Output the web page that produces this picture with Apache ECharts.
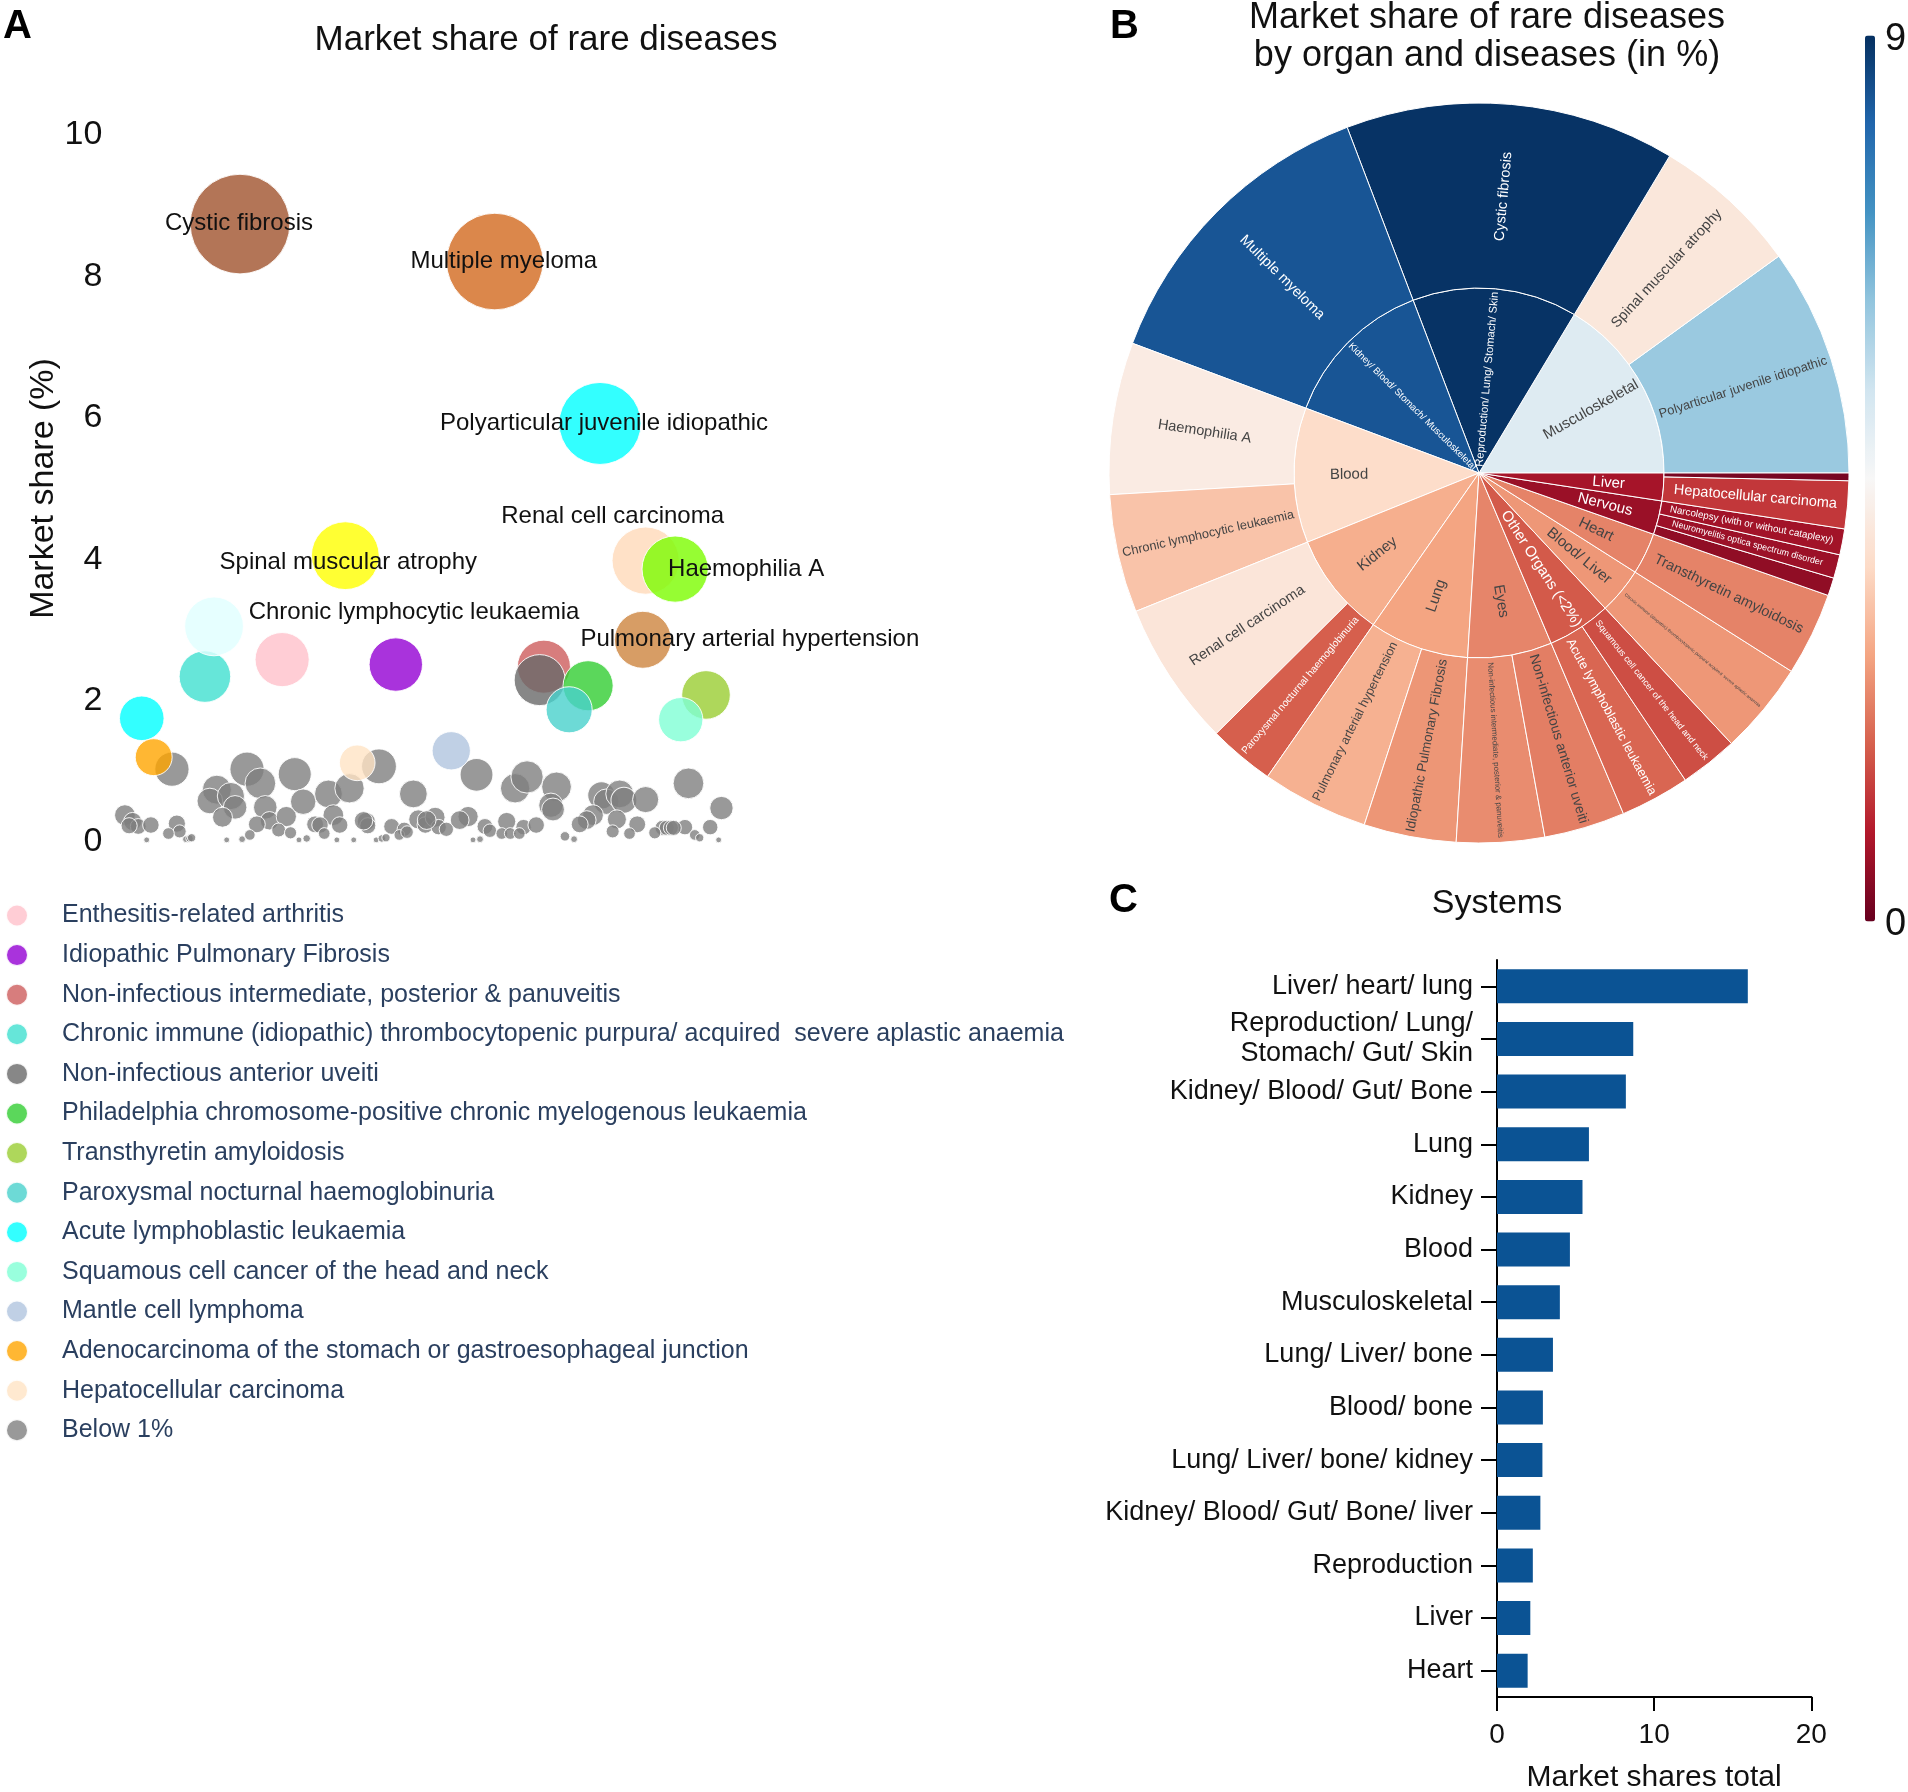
<!DOCTYPE html>
<html><head><meta charset="utf-8">
<script src="https://cdn.jsdelivr.net/npm/echarts/dist/echarts.min.js"></script>
<style>html,body{margin:0;padding:0;background:#fff}#c{width:1908px;height:1792px}</style>
</head><body><div id="c"></div>
<script>
// ---------------- Panel A data ----------------
const labeledNames = ['Cystic fibrosis','Multiple myeloma','Polyarticular juvenile idiopathic','Renal cell carcinoma','Haemophilia A','Spinal muscular atrophy','Chronic lymphocytic leukaemia','Pulmonary arterial hypertension'];
const labeledX = [34.2,70.5,85.5,92.0,96.2,49.2,30.5,91.6];
const labeledY = [8.74,8.21,5.92,3.98,3.86,4.05,3.05,2.86];

const legendNames = ['Enthesitis-related arthritis','Idiopathic Pulmonary Fibrosis','Non-infectious intermediate, posterior & panuveitis','Chronic immune (idiopathic) thrombocytopenic purpura/ acquired  severe aplastic anaemia','Non-infectious anterior uveiti','Philadelphia chromosome-positive chronic myelogenous leukaemia','Transthyretin amyloidosis','Paroxysmal nocturnal haemoglobinuria','Acute lymphoblastic leukaemia','Squamous cell cancer of the head and neck','Mantle cell lymphoma','Adenocarcinoma of the stomach or gastroesophageal junction','Hepatocellular carcinoma'];
const legendX = [40.2,56.4,77.5,29.2,76.9,83.8,100.6,81.1,20.2,97.0,64.3,21.9,50.9];
const legendY = [2.58,2.51,2.48,2.34,2.29,2.21,2.08,1.87,1.75,1.73,1.29,1.20,1.12];

const belowName = 'Below 1%';
const belowX = [24.5,35.2,37.1,42.0,30.9,29.9,32.9,33.5,31.7,37.8,38.4,36.6,40.8,43.2,46.8,49.8,54.0,58.9,47.5,44.9,45.6,48.4,52.2,52.4,55.8,57.6,59.6,60.6,17.8,18.9,19.7,18.4,21.5,25.2,25.6,24.0,20.9,26.5,27.0,27.3,32.3,34.5,35.6,39.7,41.4,42.6,43.7,46.2,48.0,50.4,51.8,53.6,54.4,55.0,56.9,58.0,
  67.9,73.4,75.1,79.3,78.5,78.8,85.7,86.4,88.3,88.9,92.0,98.1,102.8,84.5,83.6,82.6,87.9,90.8,87.3,89.7,97.6,101.2,94.4,95.0,95.6,96.0,93.3,99.0,99.7,102.4,80.5,81.8,62.0,66.7,65.5,62.5,63.6,72.2,69.1,69.8,74.6,76.4,71.5,72.7,74.0,67.4,68.4,60.8];
const belowY = [1.03,1.03,0.83,0.96,0.74,0.58,0.65,0.49,0.35,0.49,0.30,0.25,0.36,0.57,0.68,0.76,1.07,0.68,0.38,0.25,0.24,0.24,0.29,0.23,0.22,0.18,0.32,0.24,0.38,0.29,0.22,0.23,0.24,0.26,0.15,0.12,0.03,0.04,0.05,0.06,0.03,0.04,0.10,0.17,0.13,0.03,0.05,0.12,0.03,0.03,0.30,0.03,0.05,0.06,0.10,0.14,
  0.95,0.76,0.92,0.78,0.52,0.46,0.66,0.57,0.68,0.59,0.60,0.83,0.48,0.38,0.31,0.25,0.32,0.25,0.15,0.12,0.21,0.21,0.20,0.20,0.20,0.20,0.13,0.10,0.06,0.03,0.08,0.04,0.35,0.36,0.31,0.21,0.18,0.29,0.22,0.16,0.21,0.24,0.12,0.12,0.12,0.03,0.04,0.31];
const yTicksA = [0, 10, 2]; // min, max, interval

// ---------------- Panel B data ----------------
const organNames = ['Musculoskeletal','Reproduction/ Lung/ Stomach/ Skin','Kidney/ Blood/ Stomach/ Musculoskeletal','Blood','Kidney','Lung','Eyes','Other Organs (<2%)','Blood/ Liver','Heart','Nervous','Liver'];
const organDiseases = [
  ['Polyarticular juvenile idiopathic','Spinal muscular atrophy'],
  ['Cystic fibrosis'],
  ['Multiple myeloma'],
  ['Haemophilia A','Chronic lymphocytic leukaemia'],
  ['Renal cell carcinoma','Paroxysmal nocturnal haemoglobinuria'],
  ['Pulmonary arterial hypertension','Idiopathic Pulmonary Fibrosis'],
  ['Non-infectious intermediate, posterior & panuveitis','Non-infectious anterior uveiti'],
  ['Acute lymphoblastic leukaemia','Squamous cell cancer of the head and neck'],
  ['Chronic immune (idiopathic) thrombocytopenic purpura/ acquired  severe aplastic anaemia'],
  ['Transthyretin amyloidosis'],
  ['','Neuromyelitis optica spectrum disorder','Narcolepsy (with or without cataplexy)'],
  ['Hepatocellular carcinoma','']
];
const organShares = [
  [5.98,3.85],[8.65],[8.10],[3.98,3.10],[3.80,1.73],[2.80,2.42],[2.30,2.12],[1.82,1.52],[2.43],[2.18],[0.47,0.62,0.68],[1.25,0.20]
];
const colorScaleRange = [0, 8.7];
const colorbarTicks = ['9', '0'];

// ---------------- Panel C data ----------------
const systemNames = ['Liver/ heart/ lung','Reproduction/ Lung/\nStomach/ Gut/ Skin','Kidney/ Blood/ Gut/ Bone','Lung','Kidney','Blood','Musculoskeletal','Lung/ Liver/ bone','Blood/ bone','Lung/ Liver/ bone/ kidney','Kidney/ Blood/ Gut/ Bone/ liver','Reproduction','Liver','Heart'];
const systemValues = [15.96,8.67,8.20,5.85,5.44,4.64,4.00,3.56,2.92,2.89,2.76,2.28,2.12,1.95];
const xTicksC = [0, 20, 10];

// ---------------- styles ----------------
const FONT = '"Liberation Sans", Arial, sans-serif';
const labeledColors = ['#a0522d','#d2691e','#00ffff','#ffdab9','#7cfc00','#ffff00','#e0ffff','#cd853f'];
const legendColors = ['#ffc0cb','#9400d3','#cd5c5c','#40e0d0','#696969','#32cd32','#9acd32','#48d1cc','#00ffff','#7fffd4','#b0c4de','#ffa500','#ffe4c4'];
const belowColor = '#808080';
const labelOffsets = [[-1,-1],[9,0],[4,0],[-33,-44],[71,0],[3,7],[200,-14],[107,0]];
const rdbuStops = ['#67001f','#b2182b','#d6604d','#f4a582','#fddbc7','#f7f7f7','#d1e5f0','#92c5de','#4393c3','#2166ac','#053061'];

function hexToRgb(h){return [parseInt(h.slice(1,3),16),parseInt(h.slice(3,5),16),parseInt(h.slice(5,7),16)];}
const alpha = (h,a) => 'rgba(' + hexToRgb(h).join(',') + ',' + a + ')';
function rdbu(t){
  t=Math.max(0,Math.min(1,t)); const n=rdbuStops.length-1;
  const i=Math.min(n-1,Math.floor(t*n)); const f=t*n-i;
  const a=hexToRgb(rdbuStops[i]), b=hexToRgb(rdbuStops[i+1]);
  return a.map((v,k)=>Math.round(v+(b[k]-v)*f));
}
const rgbStr = c => 'rgb('+c.join(',')+')';
const textOn = c => ((c[0]*299+c[1]*587+c[2]*114)/1000 > 140 ? '#444' : '#fff');
const meas = document.createElement('canvas').getContext('2d');
function emW(t){ meas.font = '100px ' + FONT; return meas.measureText(t).width/100; }

const bubbleSize = v => 33.7*Math.sqrt(v[1]);
const bubbleStyle = c => ({color:alpha(c,0.8), opacity:1, borderColor:'rgba(255,255,255,0.9)', borderWidth:1});

// ---------------- build sunburst ----------------
const R_IN = 185, R_OUT = 370;
const total = organShares.flat().reduce((a,b)=>a+b,0);
const norm = v => (v-colorScaleRange[0])/(colorScaleRange[1]-colorScaleRange[0]);
const sunData = organNames.map((o,i)=>{
  const vals = organShares[i];
  const sum = vals.reduce((a,b)=>a+b,0);
  const mean = sum/vals.length;
  const col = rdbu(norm(mean));
  const ang = sum/total*2*Math.PI;
  const fs = Math.min(15, 176/Math.max(emW(o),0.1), ang*150*0.75);
  const w = emW(o)*fs;
  return {
    name:o,
    itemStyle:{color:rgbStr(col)},
    label:{fontSize:fs, color:textOn(col), align:'right', distance:Math.max(3, R_IN-130-w/2)},
    children: organDiseases[i].map((d,j)=>{
      const c2 = rdbu(norm(vals[j]));
      const a2 = vals[j]/total*2*Math.PI;
      const f2 = d ? Math.min(14.5, 176/emW(d), a2*185*0.75) : 6;
      return {name:d, value:vals[j], itemStyle:{color:rgbStr(c2)}, label:{fontSize:f2, color:textOn(c2)}};
    })
  };
});

// ---------------- series ----------------
const series = [];
series.push({type:'scatter', name:belowName, xAxisIndex:0, yAxisIndex:0, data: belowX.map((x,i)=>[x,belowY[i]]), symbolSize:bubbleSize, itemStyle:bubbleStyle(belowColor), z:2, silent:true});
legendNames.forEach((n,i)=>series.push({type:'scatter', name:n, xAxisIndex:0, yAxisIndex:0, data:[[legendX[i],legendY[i]]], symbolSize:bubbleSize, itemStyle:bubbleStyle(legendColors[i]), z:3, silent:true}));
labeledNames.forEach((n,i)=>series.push({type:'scatter', name:n, xAxisIndex:0, yAxisIndex:0, data:[[labeledX[i],labeledY[i]]], symbolSize:bubbleSize, itemStyle:bubbleStyle(labeledColors[i]), z:4, silent:true,
  label:{show:true, position:'inside', offset:labelOffsets[i], formatter:n, fontSize:24, color:'#111', opacity:1, textBorderWidth:0, textBorderColor:'transparent', textShadowBlur:0, fontFamily:FONT}}));
series.push({type:'sunburst', center:[1479,473], radius:[0,R_OUT], startAngle:0, clockwise:false, sort:null, nodeClick:false,
  emphasis:{focus:'none'}, data:sunData,
  itemStyle:{borderColor:'#fff', borderWidth:1},
  label:{rotate:'radial', fontFamily:FONT, textBorderWidth:0},
  levels:[{}, {r0:0, r:R_IN}, {r0:R_IN, r:R_OUT}]
});
series.push({type:'bar', xAxisIndex:1, yAxisIndex:1, data:systemValues, barWidth:34, itemStyle:{color:'#0b5394'}, silent:true});
const dummyIndex = series.length;
series.push({type:'scatter', name:'_cb', xAxisIndex:0, yAxisIndex:0, data:[]});

const SX = 7.018, xMin = 16, xMax = 110;
const option = {
  animation:false,
  textStyle:{fontFamily:FONT},
  title:[
    {text:'A', left:3, top:7, padding:0, textStyle:{fontSize:40, fontWeight:'bold', color:'#000', fontFamily:FONT}},
    {text:'Market share of rare diseases', left:546, top:23, textAlign:'center', padding:0, textStyle:{fontSize:35, fontWeight:'normal', color:'#111', fontFamily:FONT}},
    {text:'B', left:1110, top:7, padding:0, textStyle:{fontSize:40, fontWeight:'bold', color:'#000', fontFamily:FONT}},
    {text:'Market share of rare diseases\nby organ and diseases (in %)', left:1487, top:-1, textAlign:'center', padding:0, textStyle:{fontSize:36, lineHeight:38, fontWeight:'normal', color:'#111', fontFamily:FONT}},
    {text:'C', left:1109, top:881, padding:0, textStyle:{fontSize:40, fontWeight:'bold', color:'#000', fontFamily:FONT}},
    {text:'Systems', left:1497, top:887, textAlign:'center', padding:0, textStyle:{fontSize:34, fontWeight:'normal', color:'#111', fontFamily:FONT}},
    {text:colorbarTicks[0], left:1885, top:21, padding:0, textStyle:{fontSize:38, fontWeight:'normal', color:'#111', fontFamily:FONT}},
    {text:colorbarTicks[1], left:1885, top:906, padding:0, textStyle:{fontSize:38, fontWeight:'normal', color:'#111', fontFamily:FONT}}
  ],
  legend:{orient:'vertical', left:0, top:898, itemWidth:40, itemHeight:22, itemGap:14.6, icon:'circle', selectedMode:false,
    data: legendNames.concat([belowName]),
    textStyle:{fontSize:25, color:'#2a3f5f', lineHeight:22, padding:[0,0,0,20], fontFamily:FONT}},
  visualMap:{type:'continuous', min:colorScaleRange[0], max:colorScaleRange[1], seriesIndex:dummyIndex, calculable:false, orient:'vertical',
    left:1865, top:35.5, itemWidth:10, itemHeight:886, padding:0, inRange:{color:rdbuStops}, text:null, hoverLink:false},
  grid:[
    {left:xMin*SX, width:(xMax-xMin)*SX, top:135, height:707, outerBoundsMode:'none'},
    {left:1497, right:96.7, top:960, bottom:95, outerBoundsMode:'none'}
  ],
  xAxis:[
    {gridIndex:0, type:'value', min:xMin, max:xMax, show:false},
    {gridIndex:1, type:'value', min:xTicksC[0], max:xTicksC[1], interval:xTicksC[2],
      axisLine:{show:true, lineStyle:{color:'#000', width:2}}, axisTick:{show:true, length:14, lineStyle:{color:'#000', width:2}},
      axisLabel:{fontSize:28, color:'#111', margin:24}, splitLine:{show:false},
      name:'Market shares total', nameLocation:'middle', nameGap:66, nameTextStyle:{fontSize:30, color:'#111'}}
  ],
  yAxis:[
    {gridIndex:0, type:'value', min:yTicksA[0], max:yTicksA[1], interval:yTicksA[2],
      axisLine:{show:false}, axisTick:{show:false}, splitLine:{show:false},
      axisLabel:{fontSize:34, color:'#111', margin:10},
      name:'Market share (%)', nameLocation:'middle', nameGap:45, nameRotate:90, nameTextStyle:{fontSize:34, color:'#111'}},
    {gridIndex:1, type:'category', data:systemNames, inverse:true,
      axisLine:{show:true, lineStyle:{color:'#000', width:2}}, axisTick:{show:true, alignWithLabel:true, length:16, lineStyle:{color:'#000', width:2}},
      axisLabel:{fontSize:27, color:'#111', margin:24, lineHeight:30}, splitLine:{show:false}}
  ],
  series: series
};
const chart = echarts.init(document.getElementById('c'), null, {renderer:'canvas'});
chart.setOption(option);
</script></body></html>
